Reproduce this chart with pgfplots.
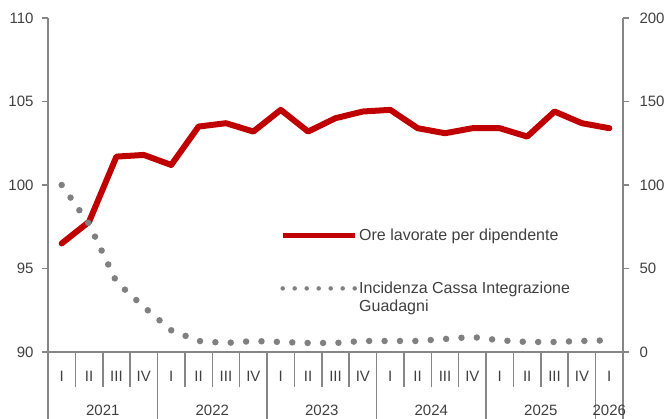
\documentclass[border=0pt]{standalone}
\usepackage{fontspec}
\setmainfont{Liberation Sans}
\usepackage{pgfplots}
\pgfplotsset{compat=1.18}

\definecolor{cred}{HTML}{C00000}
\definecolor{cgray}{HTML}{808080}
\definecolor{caxis}{HTML}{868686}
\definecolor{ctext}{HTML}{404040}

\pgfplotsset{
  base/.style={
    scale only axis, width=575pt, height=334pt,
    at={(0pt,0pt)}, anchor=south west,
    xmin=-0.5, xmax=20.5,
    axis x line*=bottom,
    axis line style={draw=caxis, line width=1.5pt},
    tick style={draw=caxis, line width=1.5pt},
    tick align=outside,
    major tick length=6pt,
    tick label style={font=\fontsize{15}{18}\selectfont, text=ctext},
    /pgf/number format/assume math mode=true,
  }
}

\begin{document}
\begin{tikzpicture}
% left axis: hours worked per employee
\begin{axis}[base,
  axis y line*=left,
  ymin=90, ymax=110, ytick={90,95,...,110},
  yticklabel style={anchor=east, xshift=-5pt},
  xtick={-0.5,0.5,...,20.5},
  x tick label as interval,
  xticklabels={I,II,III,IV,I,II,III,IV,I,II,III,IV,I,II,III,IV,I,II,III,IV,I},
  xtick style={draw=caxis, line width=1.5pt, /pgfplots/major tick length=35pt},
  xticklabel style={anchor=base, yshift=-24pt},
  extra x ticks={-0.5,3.5,7.5,11.5,15.5,19.5,20.5},
  extra x tick labels={},
  extra x tick style={xtick style={draw=caxis, line width=1.5pt, /pgfplots/major tick length=67pt}},
]
\addplot[cred, line width=6pt, line join=round, line cap=round] coordinates {
  (0,96.5) (1,97.8) (2,101.7) (3,101.8) (4,101.2) (5,103.5) (6,103.7)
  (7,103.2) (8,104.5) (9,103.2) (10,104.0) (11,104.4) (12,104.5) (13,103.4)
  (14,103.1) (15,103.4) (16,103.4) (17,102.9) (18,104.4) (19,103.7) (20,103.4)
};
\end{axis}
% right axis: CIG incidence
\begin{axis}[base,
  axis y line*=right,
  ymin=0, ymax=200, ytick={0,50,...,200},
  yticklabel style={anchor=west, xshift=7pt},
  xtick={1.5,5.5,9.5,13.5,17.5,20},
  xticklabels={2021,2022,2023,2024,2025,2026},
  xtick style={draw=none},
  xticklabel style={anchor=base, yshift=-58pt},
  legend style={at={(0.4035,0.374)}, anchor=north west, draw=none, fill=none,
    inner sep=0pt, row sep=35pt, column sep=0pt,
    font=\fontsize{16}{18}\selectfont, text=ctext},
  legend cell align=left,
]
\addlegendimage{legend image code/.code={\draw[cred, line width=5pt] (0pt,0pt) -- (72pt,0pt);}}
\addlegendentry{Ore lavorate per dipendente}
\addplot[cgray, line width=6.5pt, line cap=round, dash pattern=on 0pt off 15.4pt,
  legend image code/.code={\draw[cgray, line width=4.5pt, line cap=round, dash pattern=on 0pt off 12pt] (0pt,0pt) -- (72.1pt,0pt);}]
  coordinates {
  (0,100) (1,76.6) (2,42) (3,27) (4,13) (5,6.6) (6,5.4) (7,6.6) (8,6)
  (9,5.4) (10,5.4) (11,6.6) (12,6.6) (13,6.6) (14,7.8) (15,9) (16,7)
  (17,6) (18,6) (19,6.6) (20,7)
};
\addlegendentry{\begin{tabular}[t]{@{}l@{}}Incidenza Cassa Integrazione\\Guadagni\end{tabular}}
\end{axis}
\pgfresetboundingbox
\path (-48pt,-67pt) rectangle (621pt,352pt);
\end{tikzpicture}
\end{document}
